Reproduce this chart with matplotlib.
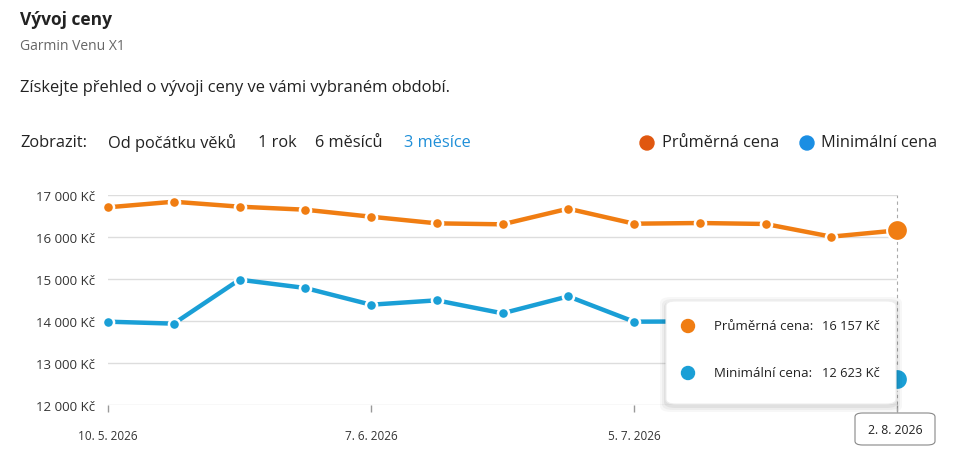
import matplotlib
matplotlib.use("Agg")
import matplotlib.pyplot as plt
import matplotlib.dates as mdates
from matplotlib.patches import FancyBboxPatch, Ellipse
from matplotlib.ticker import FuncFormatter, FixedLocator
from datetime import date

plt.rcParams['font.family'] = ['Open Sans', 'DejaVu Sans']

# data (weekly points)
dates = ["2026-05-10", "2026-05-17", "2026-05-24", "2026-05-31", "2026-06-07",
         "2026-06-14", "2026-06-21", "2026-06-28", "2026-07-05", "2026-07-12",
         "2026-07-19", "2026-07-26", "2026-08-02"]
avg_price = [16707, 16840, 16722, 16650, 16483, 16325, 16302, 16674, 16317,
             16333, 16310, 16008, 16157]
min_price = [13984, 13937, 14984, 14786, 14388, 14492, 14183, 14587, 13984,
             13990, 13700, 13000, 12623]
tick_dates = ["2026-05-10", "2026-06-07", "2026-07-05", "2026-08-02"]
tick_labels = ["10. 5. 2026", "7. 6. 2026", "5. 7. 2026", "2. 8. 2026"]
y_ticks = [12000, 13000, 14000, 15000, 16000, 17000]
periods = ["Od počátku věků", "1 rok", "6 měsíců", "3 měsíce"]

ORANGE = "#f07d12"
BLUE = "#1a9fd6"
ORANGE_DOT = "#e0570f"
BLUE_DOT = "#1a8ee3"
TXT = "#222222"

W, H = 961, 477


def px(x, y):
    return x / W, 1 - y / H


def dot(x, y, d, col, z=1):
    fig.patches.append(Ellipse(px(x, y), d / W, d / H, transform=fig.transFigure,
                               color=col, zorder=z))


def kc(v):
    return f"{int(v):,} Kč".replace(",", " ")


x = [mdates.date2num(date.fromisoformat(d)) for d in dates]

fig = plt.figure(figsize=(W / 100, H / 100), dpi=100)
fig.patch.set_facecolor("white")

# header
fig.text(*px(20, 20), "Vývoj ceny", fontsize=12.5, fontweight="bold", color=TXT, va="center")
fig.text(*px(20, 47), "Garmin Venu X1", fontsize=10, color="#666666", va="center")
fig.text(*px(20, 88), "Získejte přehled o vývoji ceny ve vámi vybraném období.",
         fontsize=11.9, color=TXT, va="center")
fig.text(*px(20, 143), "Zobrazit:", fontsize=11.8, color=TXT, va="center")
period_x = [108, 258, 315, 404]
for i, (p, xx) in enumerate(zip(periods, period_x)):
    fig.text(*px(xx, 143), p, fontsize=11.8, va="center",
             color="#1f8fd8" if i == len(periods) - 1 else TXT)

dot(647, 144, 14, ORANGE_DOT)
fig.text(*px(662, 143), "Průměrná cena", fontsize=11.8, color=TXT, va="center")
dot(807, 144, 14, BLUE_DOT)
fig.text(*px(821, 143), "Minimální cena", fontsize=11.8, color=TXT, va="center")

# chart
l, b = px(108, 406)
r, t = px(897, 196)
ax = fig.add_axes([l, b, r - l, t - b])
ax.set_xlim(x[0], x[-1])
ax.set_ylim(12000, 17000)
for s in ax.spines.values():
    s.set_visible(False)
ax.yaxis.set_major_locator(FixedLocator(y_ticks))
ax.yaxis.set_major_formatter(FuncFormatter(lambda v, p: kc(v)))
ax.grid(axis="y", color="#dddddd", linewidth=1)
ax.tick_params(axis="y", length=0, pad=9.5, labelsize=9.5, labelcolor="#333333")
ax.set_xticks([mdates.date2num(date.fromisoformat(d)) for d in tick_dates])
# last date is shown in the hover box instead
ax.set_xticklabels(tick_labels[:-1] + [""])
ax.tick_params(axis="x", length=5, width=1, color="#999999", pad=12,
               labelsize=8.5, labelcolor="#333333")
ax.set_axisbelow(True)

ax.plot([x[-1], x[-1]], [11850, 17000], color="#aaaaaa", lw=0.8,
        ls=(0, (3, 3)), clip_on=False, zorder=2)

for vals, col in [(avg_price, ORANGE), (min_price, BLUE)]:
    ax.plot(x, vals, color=col, lw=3.2, solid_capstyle="round", zorder=3, clip_on=False)
    ax.plot(x[:-1], vals[:-1], ls="none", marker="o", ms=8, mfc=col,
            mec="white", mew=1.8, zorder=4, clip_on=False)
    ax.plot(x[-1], vals[-1], ls="none", marker="o", ms=15, mfc=col,
            mec="white", mew=1.5, zorder=5, clip_on=False)

# tooltip
bx0, by0, bx1, by1 = 666, 302, 896, 405
for k, a in [(6, 0.03), (4, 0.04), (2, 0.05)]:
    fig.patches.append(FancyBboxPatch(px(bx0 - k, by1 + k + 2), (bx1 - bx0 + 2 * k) / W,
                                      (by1 - by0 + 2 * k) / H,
                                      boxstyle="round,pad=0,rounding_size=0.012",
                                      transform=fig.transFigure, facecolor="black",
                                      edgecolor="none", alpha=a, zorder=10))
fig.patches.append(FancyBboxPatch(px(bx0, by1), (bx1 - bx0) / W, (by1 - by0) / H,
                                  boxstyle="round,pad=0,rounding_size=0.01",
                                  transform=fig.transFigure, facecolor="white",
                                  edgecolor="#eeeeee", lw=0.8, zorder=11))
for yy, col, lab, v in [(327, ORANGE, "Průměrná cena:", avg_price[-1]),
                        (374, BLUE, "Minimální cena:", min_price[-1])]:
    dot(688, yy, 13, col, 12)
    fig.text(*px(714, yy), lab, fontsize=9.5, color=TXT, va="center", zorder=13)
    fig.text(*px(880, yy), kc(v), fontsize=9.3, color=TXT,
             va="center", ha="right", zorder=13)

# date label box
fig.patches.append(FancyBboxPatch(px(855, 446), 80 / W, 32 / H,
                                  boxstyle="round,pad=0,rounding_size=0.008",
                                  transform=fig.transFigure, facecolor="white",
                                  edgecolor="#888888", lw=0.8, zorder=11))
fig.text(*px(895, 431), tick_labels[-1], fontsize=8.8, color=TXT, ha="center",
         va="center", zorder=12)

fig.savefig("out.png", dpi=100, facecolor="white")
